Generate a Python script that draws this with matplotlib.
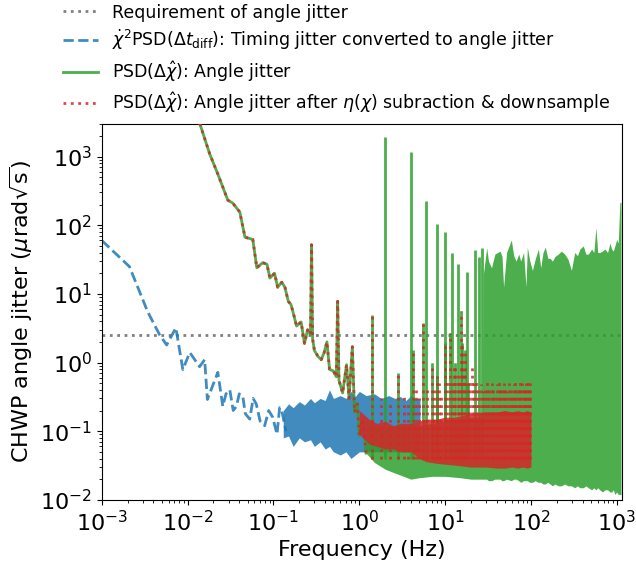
import matplotlib
matplotlib.use("Agg")
import matplotlib.pyplot as plt

# ---------------- data ----------------
requirement = 2.5

# timing jitter converted to angle jitter: sparse low-frequency part
blue_freq = [0.001, 0.0021, 0.003, 0.0034, 0.0047, 0.0057, 0.0073, 0.0088, 0.0106,
             0.0138, 0.0158, 0.017, 0.0225, 0.0257, 0.028, 0.031, 0.034, 0.037,
             0.040, 0.044, 0.047, 0.053, 0.058, 0.063, 0.070, 0.079, 0.088, 0.098,
             0.11, 0.118, 0.125, 0.14]
blue_val = [60, 25, 8.3, 5.6, 2.56, 1.8, 3.2, 0.79, 1.4,
            0.87, 1.1, 0.29, 0.72, 0.23, 0.35, 0.4, 0.2, 0.23,
            0.35, 0.32, 0.18, 0.15, 0.3, 0.25, 0.14, 0.12, 0.2, 0.16,
            0.09, 0.22, 0.2, 0.1]
# dense part of the same series (envelope of the noise band)
blue_band_freq = [0.13, 0.15, 0.17, 0.2, 0.23, 0.27, 0.3, 0.35, 0.4, 0.45, 0.5, 0.6,
                  0.7, 0.8, 0.9, 1.0, 1.2, 1.5, 1.8, 2.2, 2.6, 3.0, 3.5, 4.0, 4.5, 5.1]
blue_band_low = [0.08, 0.085, 0.06, 0.08, 0.07, 0.075, 0.06, 0.07, 0.055, 0.06, 0.05, 0.045,
                 0.05, 0.04, 0.045, 0.05, 0.05, 0.05, 0.05, 0.05, 0.05, 0.05, 0.05, 0.05, 0.05, 0.05]
blue_band_high = [0.2, 0.25, 0.22, 0.27, 0.24, 0.3, 0.26, 0.3, 0.28, 0.4, 0.3, 0.33,
                  0.3, 0.38, 0.32, 0.38, 0.33, 0.35, 0.3, 0.33, 0.3, 0.32, 0.28, 0.33, 0.3, 0.3]

# angle jitter: low-frequency line (also shared by the downsampled series)
green_freq = [0.011, 0.0139, 0.0181, 0.0225, 0.0294, 0.0336, 0.0406, 0.0466, 0.0575,
              0.064, 0.075, 0.084, 0.091, 0.103, 0.112, 0.125, 0.136, 0.149, 0.16,
              0.17, 0.186, 0.21, 0.23, 0.25, 0.27, 0.278, 0.286, 0.30, 0.33, 0.36,
              0.39, 0.42, 0.45, 0.50, 0.54, 0.56, 0.58, 0.64, 0.71, 0.76, 0.83, 0.88,
              0.95, 1.0, 1.1, 1.2]
green_val = [6000, 3000, 1090, 556, 232, 210, 155, 67, 62,
             24, 28.5, 27, 17, 20, 12.5, 14.8, 12.5, 7.8, 7.0,
             5.3, 3.4, 3.9, 1.9, 3.0, 2.6, 52, 2.2, 1.5, 1.23, 1.1,
             1.4, 2.0, 0.8, 0.75, 0.62, 7.8, 0.55, 0.36, 0.93, 0.3, 1.7, 0.19,
             0.25, 0.086, 0.15, 0.048]
# angle jitter: dense noise band
green_band_freq = [1.2, 1.5, 2, 2.5, 3, 4, 5, 7, 10, 15, 20, 25, 27.5,
                   28, 30.5, 32, 34.7, 38, 43.7, 46, 48, 52, 59, 63, 67, 72, 76, 82,
                   87.5, 90.7, 97, 104, 112, 122, 130, 138, 147, 157, 167, 178, 190,
                   208, 226, 247, 270, 296, 323, 348, 372, 407, 436, 466, 510, 540,
                   571, 600, 634, 680, 727, 780, 834, 870, 911, 950, 997, 1040, 1085, 1120]
green_band_low = [0.048, 0.035, 0.028, 0.025, 0.023, 0.02, 0.021, 0.022, 0.022, 0.021,
                  0.02, 0.02, 0.02,
                  0.02, 0.02, 0.019, 0.019, 0.02, 0.02, 0.019, 0.019, 0.02, 0.019, 0.02,
                  0.02, 0.019, 0.018, 0.019, 0.019, 0.019, 0.018, 0.018, 0.019, 0.018,
                  0.018, 0.017, 0.017, 0.018, 0.017, 0.016, 0.017, 0.016, 0.016, 0.017,
                  0.016, 0.016, 0.015, 0.016, 0.015, 0.015, 0.016, 0.015, 0.014, 0.015,
                  0.014, 0.015, 0.014, 0.013, 0.014, 0.014, 0.013, 0.013, 0.014, 0.012,
                  0.013, 0.012, 0.012, 0.012]
green_band_high = [0.15, 0.12, 0.12, 0.12, 0.12, 0.12, 0.12, 0.13, 0.14, 0.15, 0.16,
                   0.16, 0.16,
                   20, 47, 30, 24, 38, 42, 35, 12.6, 40, 61, 36, 30, 38, 30, 40,
                   12.7, 48, 30, 22, 32, 45, 24, 40, 48, 33, 33, 30, 35,
                   38, 42, 38, 32, 22, 40, 36, 45, 50, 38, 38, 45, 40,
                   92, 40, 40, 42, 45, 40, 55, 45, 42, 50, 62, 55, 215, 215]
# peaks only in the raw angle jitter (removed by eta(chi) subtraction)
green_spike_freq = [2, 4, 6, 8, 10, 12, 14, 18, 22, 25, 27]
green_spike_val = [1910, 1170, 228, 104, 80, 39, 27, 21, 44, 34, 47]
# peaks present in both angle-jitter series
shared_spike_freq = [1.39, 2.84, 4.2, 5.56, 6.95, 8.1, 9.9, 11.3, 13.1, 15.3, 15.8, 17.1, 18.7]
shared_spike_val = [5.0, 0.70, 1.54, 3.77, 0.99, 0.63, 1.95, 2.7, 1.0, 5.6, 1.95, 1.5, 0.5]
spike_base = 0.04

# after eta(chi) subtraction & downsample: dense band up to 100 Hz
red_band_freq = [1.0, 1.3, 1.6, 2, 2.5, 3, 4, 5, 6, 8, 10, 13, 16, 20, 25, 30, 40, 50,
                 60, 70, 80, 90, 100]
red_band_low = [0.09, 0.065, 0.06, 0.055, 0.055, 0.05, 0.05, 0.04, 0.036, 0.034, 0.033,
                0.032, 0.031, 0.03, 0.03, 0.03, 0.029, 0.029, 0.03, 0.029, 0.03, 0.029, 0.03]
red_band_high = [0.2, 0.15, 0.13, 0.14, 0.12, 0.13, 0.13, 0.14, 0.15, 0.15, 0.16, 0.16,
                 0.17, 0.18, 0.18, 0.19, 0.19, 0.2, 0.19, 0.2, 0.19, 0.2, 0.19]
red_streak_freq = [1.8, 2.3, 3.3, 3.7, 4.6, 5.0, 6.2, 7.5, 8.6, 9.0, 10.5, 12.0, 12.6,
                   14.0, 14.6, 16.5, 19.0, 20.5, 21.5, 23.0, 24.0, 26.0, 27.5, 29.0,
                   31.0, 32.5, 35.0, 36.5, 38.0, 40.0, 42.0, 44.0, 46.0, 48.0, 50.0,
                   53.0, 55.0, 58.0, 60.0, 63.0, 66.0, 69.0, 72.0, 75.0, 78.0, 82.0,
                   85.0, 88.0, 92.0, 95.0, 98.0]
red_streak_val = [0.3, 0.25, 0.35, 0.28, 0.4, 0.3, 0.45, 0.4, 0.5, 0.35, 0.6, 0.5, 0.9,
                  0.7, 0.55, 0.8, 0.6, 0.9, 0.5, 0.55, 0.42, 0.48, 0.38, 0.4,
                  0.52, 0.45, 0.5, 0.4, 0.35, 0.48, 0.55, 0.42, 0.4, 0.5, 0.45,
                  0.38, 0.5, 0.42, 0.35, 0.48, 0.55, 0.4, 0.45, 0.52, 0.5, 0.42,
                  0.4, 0.5, 0.58, 0.45, 0.5]

labels = [
    "Requirement of angle jitter",
    r"$\dot{\chi}^2$PSD($\Delta t_{\rm diff}$): Timing jitter converted to angle jitter",
    r"PSD($\Delta\hat{\chi}$): Angle jitter",
    r"PSD($\Delta\hat{\chi}$): Angle jitter after $\eta(\chi)$ subraction & downsample",
]

# ---------------- plotting ----------------
c_blue = "tab:blue"
c_green = "tab:green"
c_red = "tab:red"
a = 0.85

fig = plt.figure(figsize=(6.36, 5.68), dpi=100)
ax = fig.add_axes([0.160, 0.120, 0.818, 0.662])

h_req = ax.axhline(requirement, color="gray", linestyle=":", lw=2, zorder=1)

h_blue, = ax.plot(blue_freq, blue_val, color=c_blue, ls="--", lw=2, alpha=a, zorder=2)
ax.fill_between(blue_band_freq, blue_band_low, blue_band_high, color=c_blue,
                alpha=a, lw=0, zorder=2)

h_green, = ax.plot(green_freq, green_val, color=c_green, lw=2, alpha=a, zorder=3)
ax.fill_between(green_band_freq, green_band_low, green_band_high, color=c_green,
                alpha=a, lw=0, zorder=3)
ax.vlines(green_spike_freq, spike_base, green_spike_val, colors=c_green, lw=2,
          alpha=a, zorder=3)
ax.vlines(shared_spike_freq, spike_base, shared_spike_val, colors=c_green, lw=2,
          alpha=a, zorder=3)

h_red, = ax.plot(green_freq, green_val, color=c_red, ls=":", lw=2, alpha=a, zorder=4)
ax.fill_between(red_band_freq, red_band_low, red_band_high, color=c_red,
                alpha=a, lw=0, zorder=4)
ax.vlines(shared_spike_freq, spike_base, shared_spike_val, colors=c_red, lw=2,
          linestyles=":", alpha=a, zorder=4)
ax.vlines(red_streak_freq, spike_base, red_streak_val, colors=c_red, lw=2,
          linestyles=":", alpha=a, zorder=4)

ax.set_xscale("log")
ax.set_yscale("log")
ax.set_xlim(1e-3, 1.15e3)
ax.set_ylim(1e-2, 3e3)
ax.tick_params(labelsize=16)
ax.set_xlabel("Frequency (Hz)", fontsize=16)
ax.set_ylabel(r"CHWP angle jitter ($\mu$rad$\sqrt{\rm s}$)", fontsize=16)

fig.legend([h_req, h_blue, h_green, h_red], labels, loc="upper left",
           bbox_to_anchor=(0.088, 1.006), frameon=False, fontsize=12.5,
           labelspacing=0.38, borderaxespad=0)

fig.savefig("out.png", dpi=100)
